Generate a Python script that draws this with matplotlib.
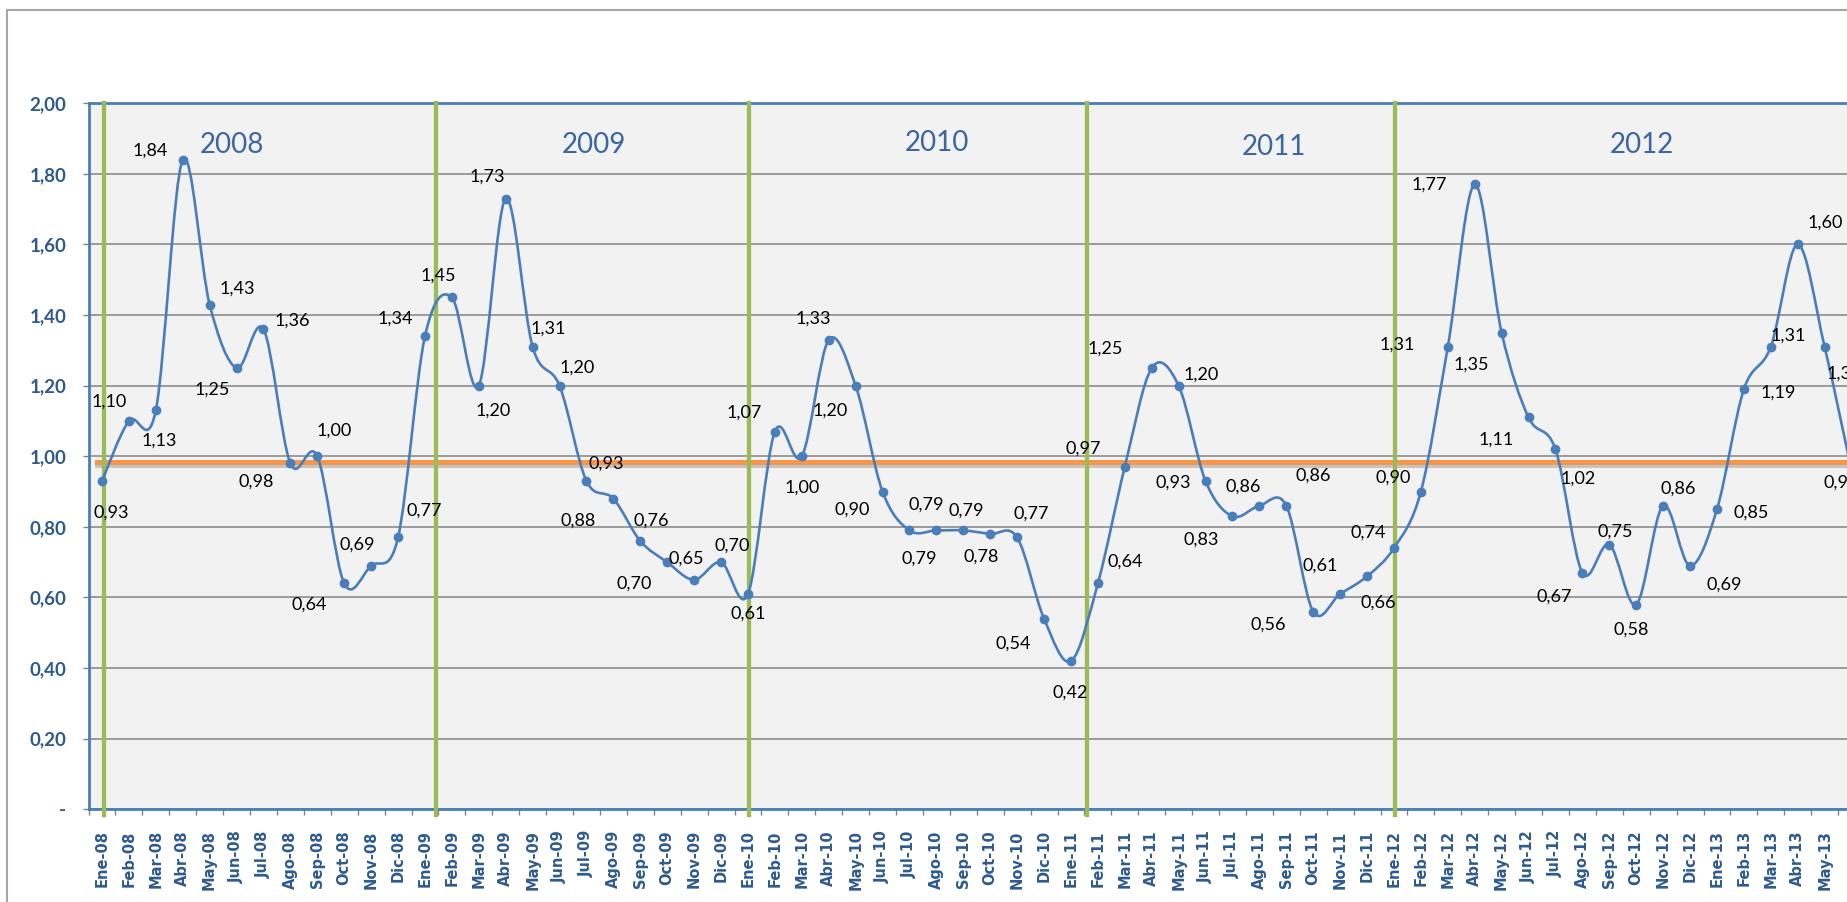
import numpy as np
import matplotlib.pyplot as plt
from matplotlib.path import Path
from matplotlib.patches import PathPatch
from matplotlib.lines import Line2D
import matplotlib.patheffects as pe

# data
meses = ['Ene', 'Feb', 'Mar', 'Abr', 'May', 'Jun', 'Jul', 'Ago', 'Sep', 'Oct', 'Nov', 'Dic']
anios = ['08', '09', '10', '11', '12', '13']
etiquetas = [m + '-' + a for a in anios for m in meses][:65] + ['']  # Jun-13 falls outside the picture

valores = [0.93, 1.10, 1.13, 1.84, 1.43, 1.25, 1.36, 0.98, 1.00, 0.64, 0.69, 0.77,
           1.34, 1.45, 1.20, 1.73, 1.31, 1.20, 0.93, 0.88, 0.76, 0.70, 0.65, 0.70,
           0.61, 1.07, 1.00, 1.33, 1.20, 0.90, 0.79, 0.79, 0.79, 0.78, 0.77, 0.54,
           0.42, 0.64, 0.97, 1.25, 1.20, 0.93, 0.83, 0.86, 0.86, 0.56, 0.61, 0.66,
           0.74, 0.90, 1.31, 1.77, 1.35, 1.11, 1.02, 0.67, 0.75, 0.58, 0.86, 0.69,
           0.85, 1.19, 1.31, 1.60, 1.31, 0.96]

referencia = 0.983
anio_txt = ['2008', '2009', '2010', '2011', '2012']
anio_pos = [(4.83, 1.882), (18.28, 1.882), (31.02, 1.888), (43.54, 1.876), (57.2, 1.882)]
cortes = [0.07, 12.4, 24.05, 36.6, 48.03]

# label offsets in pixels (dx, dy downwards)
label_off = [(9, 32), (-20, -19), (3, 30), (-33, -9), (28, -16), (-24, 22), (29, -9), (-34, 18),
             (17, -26), (-35, 21), (-14, -21), (26, -27), (-30, -18), (-14, -22), (14, 25), (-18, -22),
             (16, -18), (18, -18), (20, -17), (-35, 22), (11, -20), (-33, 21), (-8, -21), (11, -17),
             (0, 20), (-31, -19), (0, 31), (-15, -21), (-25, 25), (-30, 18), (17, -26), (-17, 28),
             (3, -20), (-9, 23), (14, -24), (-31, 25), (-1, 32), (27, -22), (-42, -18), (-47, -19),
             (23, -11), (-32, 2), (-31, 23), (-16, -19), (27, -30), (-45, 13), (-20, -28), (11, 26),
             (-26, -15), (-28, -14), (-51, -2), (-45, 0), (-30, 32), (-32, 22), (23, 29), (-28, 24),
             (6, -13), (-5, 25), (15, -17), (34, 19), (34, 3), (34, 3), (17, -11), (27, -22),
             (20, 27), (-10, 12)]

azul = '#4A7EBB'
azul_txt = '#2E5A8E'

fig = plt.figure(figsize=(18.47, 9.02), dpi=100)
ax = fig.add_axes([88.5 / 1847, 1 - 809.3 / 902, (1865 - 88.5) / 1847, (809.3 - 103.3) / 902])
ax.set_facecolor('#F2F2F2')

x = np.arange(len(valores))
y = np.array(valores)

# smoothed line like excel (catmull-rom as bezier segments)
verts = [(x[0], y[0])]
codes = [Path.MOVETO]
n = len(x)
for i in range(n - 1):
    p0 = np.array([x[max(i - 1, 0)], y[max(i - 1, 0)]])
    p1 = np.array([x[i], y[i]])
    p2 = np.array([x[i + 1], y[i + 1]])
    p3 = np.array([x[min(i + 2, n - 1)], y[min(i + 2, n - 1)]])
    c1 = p1 + (p2 - p0) / 6
    c2 = p2 - (p3 - p1) / 6
    verts += [tuple(c1), tuple(c2), tuple(p2)]
    codes += [Path.CURVE4] * 3
ax.add_patch(PathPatch(Path(verts, codes), facecolor='none', edgecolor=azul, lw=1.9, zorder=4))
ax.plot(x, y, 'o', color=azul, ms=6, zorder=5)

for i, v in enumerate(valores):
    dx, dy = label_off[i]
    ax.annotate(f'{v:.2f}'.replace('.', ','), (x[i], v), xytext=(dx, -dy),
                textcoords='offset pixels', ha='center', va='center',
                fontsize=13, family='Lato', color='black', zorder=6, annotation_clip=False)

# reference line
ax.plot([-0.19, 70], [referencia, referencia], color='#F79646', lw=3.6, zorder=3,
        path_effects=[pe.SimpleLineShadow(offset=(0, -2), shadow_color='gray', alpha=0.4), pe.Normal()])

for c in cortes:
    ax.axvline(c, ymin=-0.008, ymax=1, color='#9BBB59', lw=3.1, zorder=3, clip_on=False)

for t, (px, py) in zip(anio_txt, anio_pos):
    ax.text(px, py, t, fontsize=20, family='Lato', color='#3B66A0', ha='center', va='center', zorder=6)

ax.set_xlim(-0.5, 65.5)
ax.set_ylim(0, 2.0)
ax.set_yticks(np.arange(0, 2.01, 0.2))
ax.set_yticklabels(['-'] + [f'{t:.2f}'.replace('.', ',') for t in np.arange(0.2, 2.01, 0.2)],
                   fontsize=13.5, fontweight='bold', family='Lato', color=azul_txt)
ax.set_xticks(x)
ax.set_xticklabels(etiquetas, rotation=90, fontsize=10.5, fontweight='bold', color=azul_txt, va='top')
ax.set_xticks(np.arange(-0.5, 66, 1), minor=True)
ax.tick_params(axis='x', which='major', length=0, pad=15)
ax.tick_params(axis='x', which='minor', length=4.5, color='#808080', width=1)
ax.tick_params(axis='y', length=4, color='#808080', width=1, pad=12)

ax.grid(axis='y', color='#8C8C8C', lw=1.2, zorder=1)
ax.set_axisbelow(True)
for s in ['left', 'bottom', 'top']:
    ax.spines[s].set_color(azul)
    ax.spines[s].set_linewidth(2)
ax.spines['right'].set_visible(False)

# chart border
fig.add_artist(Line2D([7 / 1847, 7 / 1847], [0, 1 - 10 / 902], color='#A6A6A6', lw=1.5))
fig.add_artist(Line2D([7 / 1847, 1], [1 - 10 / 902, 1 - 10 / 902], color='#A6A6A6', lw=1.5))

fig.savefig('out.png', dpi=100)
